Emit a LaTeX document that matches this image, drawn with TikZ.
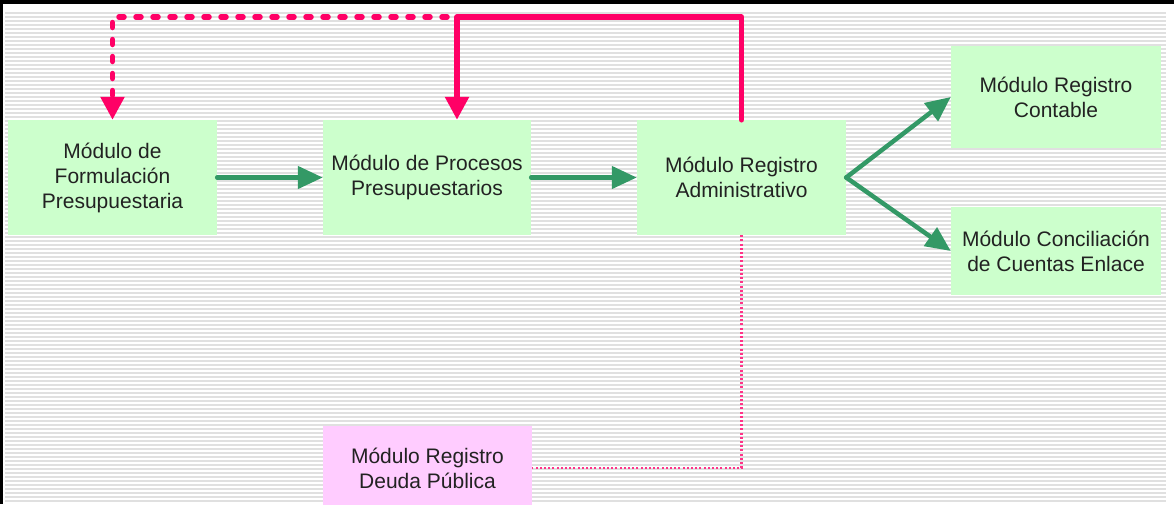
\documentclass[tikz,border=0pt]{standalone}
\usepackage{fontspec}
\setmainfont{Liberation Sans}
\usetikzlibrary{arrows.meta}
\definecolor{boxgreen}{HTML}{CCFFCC}
\definecolor{boxpink}{HTML}{FFCCFF}
\definecolor{arrgreen}{HTML}{339966}
\definecolor{hotpink}{HTML}{FF0066}
\definecolor{dotpink}{HTML}{FF3388}
\definecolor{stripe}{HTML}{E0E0E0}
\definecolor{txt}{HTML}{222222}
\begin{document}
\begin{tikzpicture}[x=1pt,y=-1pt,
  modbox/.style={rectangle, inner sep=0pt, align=center, text=txt,
    font=\fontsize{21}{25}\selectfont},
  greenbox/.style={modbox, fill=boxgreen},
  pinkbox/.style={modbox, fill=boxpink},
  flow/.style={draw=arrgreen, line width=4.5pt, line cap=round,
    -{Triangle[length=25pt,width=22pt]}},
  feedback/.style={draw=hotpink, line width=5.5pt, line join=round, line cap=round,
    -{Triangle[length=23pt,width=23pt]}},
  feeddash/.style={feedback, dash pattern=on 5pt off 12pt},
  link/.style={draw=dotpink, line width=2.2pt, dash pattern=on 2pt off 2.2pt}
]
\useasboundingbox (0,0) rectangle (1174,504);
\clip (0,0) rectangle (1174,504);
\fill[white] (0,0) rectangle (1174,504);
\foreach \yy in {13,17,...,503} \draw[stripe, line width=1.3pt] (5,\yy) -- (1166,\yy);
\fill[black] (0,0) rectangle (1174,4);
\fill[black] (0,0) rectangle (3,504);

\node[greenbox, minimum width=209pt, minimum height=115pt] (A) at (112.5,177.5)
  {Módulo de\\Formulación\\Presupuestaria};
\node[greenbox, minimum width=208pt, minimum height=115pt] (B) at (427,177.5)
  {Módulo de Procesos\\Presupuestarios};
\node[greenbox, minimum width=209pt, minimum height=115pt] (C) at (741.5,177.5)
  {Módulo Registro\\Administrativo};
\node[greenbox, minimum width=210pt, minimum height=102pt] (D) at (1056,97)
  {Módulo Registro\\Contable};
\node[greenbox, minimum width=210pt, minimum height=88pt] (E) at (1056,251)
  {Módulo Conciliación\\de Cuentas Enlace};
\node[pinkbox, minimum width=209pt, minimum height=84pt] (F) at (427.5,468)
  {Módulo Registro\\Deuda Pública};

\draw[flow] (A) -- (B);
\draw[flow] (B) -- (C);
\draw[flow] (C.east) -- (D.west);
\draw[flow] (C.east) -- (E.west);

\coordinate (tr) at (741.5,17);
\coordinate (tl) at (457,17);
\coordinate (dr) at (447,17);
\draw[feedback] (C.north) -- (tr) -- (tl) -- (tl |- B.north);
\draw[feeddash] (dr) -| (A.north);
\draw[link] (C.south) |- (F.east);
\end{tikzpicture}
\end{document}
